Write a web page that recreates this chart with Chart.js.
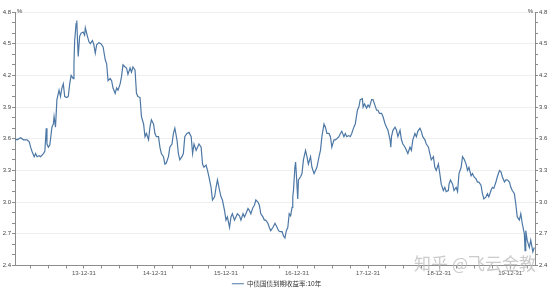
<!DOCTYPE html>
<html>
<head>
<meta charset="utf-8">
<script src="https://cdn.jsdelivr.net/npm/chart.js@4"></script>
<style>
  html, body { margin: 0; padding: 0; background: #fff; }
  #wrap { width: 553px; height: 289px; }
</style>
</head>
<body>
<div id="wrap"><canvas id="myChart"></canvas></div>
<script>
// time as fractional year, yield in %
var times = [
  2013.03, 2013.06, 2013.11, 2013.15, 2013.20, 2013.23, 2013.25, 2013.27, 2013.30, 2013.32,
  2013.34, 2013.37, 2013.39, 2013.43, 2013.45, 2013.47, 2013.48, 2013.50, 2013.52, 2013.55,
  2013.57, 2013.58, 2013.60, 2013.62, 2013.65, 2013.67, 2013.69, 2013.71, 2013.73, 2013.76,
  2013.78, 2013.80, 2013.82, 2013.85, 2013.86, 2013.87, 2013.89, 2013.90, 2013.91, 2013.92,
  2013.94, 2013.96, 2013.99, 2014.01, 2014.02, 2014.05, 2014.07, 2014.09, 2014.12, 2014.14,
  2014.16, 2014.18, 2014.21, 2014.24, 2014.27, 2014.30, 2014.32, 2014.34, 2014.37, 2014.39,
  2014.41, 2014.44, 2014.46, 2014.48, 2014.51, 2014.53, 2014.55, 2014.58, 2014.60, 2014.62,
  2014.65, 2014.67, 2014.69, 2014.72, 2014.74, 2014.76, 2014.79, 2014.81, 2014.84, 2014.86,
  2014.88, 2014.91, 2014.93, 2014.95, 2014.98, 2015.00, 2015.02, 2015.05, 2015.07, 2015.09,
  2015.12, 2015.14, 2015.16, 2015.19, 2015.21, 2015.24, 2015.26, 2015.28, 2015.31, 2015.33,
  2015.35, 2015.38, 2015.40, 2015.42, 2015.45, 2015.48, 2015.51, 2015.53, 2015.55, 2015.58,
  2015.60, 2015.62, 2015.65, 2015.67, 2015.69, 2015.72, 2015.74, 2015.76, 2015.79, 2015.81,
  2015.84, 2015.86, 2015.88, 2015.91, 2015.93, 2015.95, 2015.98, 2016.00, 2016.02, 2016.05,
  2016.07, 2016.09, 2016.12, 2016.14, 2016.16, 2016.19, 2016.21, 2016.24, 2016.26, 2016.28,
  2016.31, 2016.33, 2016.35, 2016.38, 2016.40, 2016.42, 2016.45, 2016.47, 2016.49, 2016.52,
  2016.54, 2016.56, 2016.59, 2016.61, 2016.63, 2016.66, 2016.69, 2016.72, 2016.74, 2016.76,
  2016.79, 2016.81, 2016.83, 2016.85, 2016.87, 2016.89, 2016.91, 2016.93, 2016.94, 2016.95,
  2016.97, 2016.98, 2016.99, 2017.01, 2017.02, 2017.05, 2017.07, 2017.09, 2017.12, 2017.14,
  2017.16, 2017.19, 2017.21, 2017.24, 2017.26, 2017.28, 2017.31, 2017.33, 2017.35, 2017.38,
  2017.40, 2017.42, 2017.45, 2017.47, 2017.49, 2017.52, 2017.54, 2017.56, 2017.59, 2017.61,
  2017.63, 2017.66, 2017.68, 2017.70, 2017.73, 2017.75, 2017.77, 2017.80, 2017.82, 2017.85,
  2017.87, 2017.89, 2017.92, 2017.93, 2017.95, 2017.98, 2018.00, 2018.02, 2018.05, 2018.07,
  2018.09, 2018.12, 2018.14, 2018.16, 2018.19, 2018.21, 2018.24, 2018.26, 2018.28, 2018.31,
  2018.32, 2018.33, 2018.35, 2018.38, 2018.40, 2018.42, 2018.45, 2018.47, 2018.49, 2018.52,
  2018.54, 2018.56, 2018.59, 2018.61, 2018.63, 2018.66, 2018.68, 2018.70, 2018.73, 2018.75,
  2018.77, 2018.80, 2018.82, 2018.85, 2018.87, 2018.89, 2018.92, 2018.94, 2018.96, 2018.99,
  2019.01, 2019.03, 2019.06, 2019.08, 2019.10, 2019.13, 2019.14, 2019.16, 2019.19, 2019.21,
  2019.24, 2019.26, 2019.28, 2019.31, 2019.33, 2019.35, 2019.38, 2019.40, 2019.42, 2019.45,
  2019.47, 2019.49, 2019.52, 2019.54, 2019.56, 2019.59, 2019.61, 2019.63, 2019.66, 2019.68,
  2019.70, 2019.73, 2019.75, 2019.77, 2019.80, 2019.82, 2019.85, 2019.87, 2019.89, 2019.92,
  2019.94, 2019.96, 2019.99, 2020.01, 2020.03, 2020.06, 2020.08, 2020.10, 2020.13, 2020.15,
  2020.17, 2020.20, 2020.21, 2020.22, 2020.24, 2020.27, 2020.29, 2020.32, 2020.34
];

var yields = [
  3.60, 3.59, 3.61, 3.59, 3.59, 3.57, 3.52, 3.48, 3.43, 3.46,
  3.43, 3.44, 3.43, 3.46, 3.48, 3.70, 3.55, 3.52, 3.54, 3.71,
  3.74, 3.81, 3.71, 3.97, 4.06, 4.00, 4.08, 4.12, 4.00, 3.99,
  4.00, 4.12, 4.20, 4.17, 4.31, 4.53, 4.69, 4.72, 4.53, 4.38,
  4.57, 4.60, 4.61, 4.58, 4.65, 4.57, 4.52, 4.50, 4.53, 4.49,
  4.41, 4.49, 4.51, 4.50, 4.47, 4.35, 4.31, 4.15, 4.17, 4.15,
  4.08, 4.03, 4.08, 4.06, 4.12, 4.19, 4.30, 4.28, 4.27, 4.21,
  4.27, 4.23, 4.28, 4.25, 4.03, 4.00, 3.99, 3.81, 3.74, 3.62,
  3.65, 3.59, 3.71, 3.78, 3.74, 3.65, 3.62, 3.62, 3.52, 3.46,
  3.43, 3.36, 3.37, 3.43, 3.52, 3.55, 3.65, 3.70, 3.59, 3.46,
  3.40, 3.43, 3.46, 3.62, 3.65, 3.66, 3.62, 3.46, 3.55, 3.49,
  3.52, 3.55, 3.52, 3.36, 3.33, 3.35, 3.30, 3.24, 3.14, 3.02,
  3.05, 3.14, 3.21, 3.11, 3.05, 3.02, 2.92, 2.83, 2.86, 2.76,
  2.86, 2.89, 2.83, 2.86, 2.89, 2.87, 2.83, 2.89, 2.86, 2.89,
  2.94, 2.92, 2.89, 2.95, 2.97, 3.02, 3.00, 2.97, 2.89, 2.86,
  2.83, 2.83, 2.80, 2.76, 2.73, 2.76, 2.80, 2.76, 2.73, 2.72,
  2.72, 2.68, 2.66, 2.73, 2.76, 2.89, 2.87, 2.95, 3.05, 3.11,
  3.33, 3.38, 3.27, 3.03, 3.21, 3.24, 3.27, 3.40, 3.49, 3.43,
  3.36, 3.43, 3.33, 3.27, 3.30, 3.33, 3.43, 3.49, 3.62, 3.74,
  3.71, 3.65, 3.65, 3.62, 3.52, 3.59, 3.59, 3.60, 3.62, 3.65,
  3.67, 3.62, 3.65, 3.62, 3.63, 3.62, 3.65, 3.71, 3.74, 3.87,
  3.90, 3.97, 3.98, 3.90, 3.93, 3.89, 3.92, 3.90, 3.97, 3.97,
  3.93, 3.87, 3.87, 3.84, 3.84, 3.81, 3.74, 3.71, 3.68, 3.59,
  3.52, 3.62, 3.68, 3.71, 3.68, 3.62, 3.68, 3.59, 3.55, 3.52,
  3.49, 3.46, 3.52, 3.49, 3.59, 3.65, 3.62, 3.67, 3.70, 3.67,
  3.62, 3.59, 3.55, 3.52, 3.46, 3.40, 3.43, 3.33, 3.30, 3.36,
  3.27, 3.17, 3.11, 3.14, 3.10, 3.11, 3.17, 3.21, 3.17, 3.11,
  3.14, 3.10, 3.27, 3.33, 3.43, 3.41, 3.36, 3.30, 3.33, 3.25,
  3.27, 3.24, 3.22, 3.19, 3.19, 3.16, 3.08, 3.03, 3.05, 3.08,
  3.05, 3.11, 3.14, 3.13, 3.19, 3.24, 3.30, 3.29, 3.24, 3.19,
  3.21, 3.21, 3.19, 3.14, 3.11, 3.08, 2.98, 2.86, 2.83, 2.89,
  2.80, 2.70, 2.54, 2.73, 2.64, 2.57, 2.64, 2.53, 2.57
];

// axis ticks
var xTickYears = [2014, 2015, 2016, 2017, 2018, 2019, 2020];
var xTickLabels = ["13-12-31", "14-12-31", "15-12-31", "16-12-31", "17-12-31", "18-12-31", "19-12-31"];
var yTicks = [2.4, 2.7, 3.0, 3.3, 3.6, 3.9, 4.2, 4.5, 4.8];

var seriesName = "中债国债到期收益率:10年";
var lineColor = "#4d78a6";
var axisColor = "#8c8c8c";
var fontFamily = '"Liberation Sans", "Noto Sans CJK SC", sans-serif';

var points = times.map(function (t, i) { return { x: t, y: yields[i] }; });

function isMajorY(v) {
  return yTicks.some(function (t) { return Math.abs(t - v) < 0.001; });
}

// quarterly minor ticks on x, 0.1 steps on y
function xTicks(scale) {
  var out = [];
  for (var q = 2013.25; q <= 2020.3; q += 0.25) out.push({ value: Math.round(q * 100) / 100 });
  scale.ticks = out;
}
function yMinorTicks(scale) {
  var out = [];
  for (var k = 24; k <= 48; k++) out.push({ value: k / 10 });
  scale.ticks = out;
}
function yLabel(value) {
  return isMajorY(value) ? value.toFixed(1) : "";
}

// percent signs and watermark
var extras = {
  id: "extras",
  afterDraw: function (chart) {
    var c = chart.ctx, a = chart.chartArea;
    c.save();
    c.font = "6px " + fontFamily;
    c.fillStyle = "#444";
    c.textBaseline = "middle";
    c.textAlign = "left";
    c.fillText("%", a.left + 2, a.top - 1);
    c.textAlign = "right";
    c.fillText("%", a.right - 2, a.top - 1);
    c.font = '17px "Noto Sans CJK SC", sans-serif';
    c.fillStyle = "rgba(185,185,185,0.75)";
    c.textAlign = "right";
    c.fillText("知乎 @飞云金教", 536, 264);
    c.restore();
  }
};

var ctx = document.getElementById("myChart");

var chart = new Chart(ctx, {
  type: "line",
  data: {
    datasets: [{
      label: seriesName,
      data: points,
      borderColor: lineColor,
      backgroundColor: lineColor,
      borderWidth: 1.2,
      pointRadius: 0,
      tension: 0,
      fill: false,
      yAxisID: "y"
    }]
  },
  options: {
    responsive: true,
    maintainAspectRatio: false,
    animation: false,
    layout: { padding: { top: 12, left: 0, right: 0, bottom: -8 } },
    plugins: {
      legend: {
        display: true,
        position: "bottom",
        labels: {
          color: "#333",
          font: { size: 6.5, family: fontFamily },
          usePointStyle: true,
          pointStyle: "line",
          pointStyleWidth: 12,
          boxHeight: 6,
          padding: 0
        }
      },
      tooltip: { enabled: false }
    },
    scales: {
      x: {
        type: "linear",
        min: 2013.03,
        max: 2020.35,
        afterBuildTicks: xTicks,
        afterFit: function (s) { s.height = 15; },
        border: { color: axisColor },
        grid: { drawOnChartArea: false, tickLength: 3, tickColor: axisColor },
        ticks: {
          autoSkip: false,
          maxRotation: 0,
          padding: 1,
          color: "#555",
          font: { size: 6, family: fontFamily },
          callback: function (v) {
            var i = xTickYears.indexOf(Math.round(v * 100) / 100);
            return i >= 0 ? xTickLabels[i] : "";
          }
        }
      },
      y: {
        position: "left",
        min: 2.4,
        max: 4.8,
        afterBuildTicks: yMinorTicks,
        afterFit: function (s) { s.width = 15; },
        border: { color: axisColor },
        grid: {
          tickLength: 3,
          tickColor: axisColor,
          color: function (c) { return isMajorY(c.tick.value) ? "#efefef" : "rgba(0,0,0,0)"; }
        },
        ticks: { autoSkip: false, padding: 1, color: "#444", font: { size: 6, family: fontFamily }, callback: yLabel }
      },
      y2: {
        position: "right",
        min: 2.4,
        max: 4.8,
        afterBuildTicks: yMinorTicks,
        afterFit: function (s) { s.width = 18; },
        border: { color: axisColor },
        grid: { drawOnChartArea: false, tickLength: 3, tickColor: axisColor },
        ticks: { autoSkip: false, padding: 1, color: "#444", font: { size: 6, family: fontFamily }, callback: yLabel }
      }
    }
  },
  plugins: [extras]
});
</script>
</body>
</html>
